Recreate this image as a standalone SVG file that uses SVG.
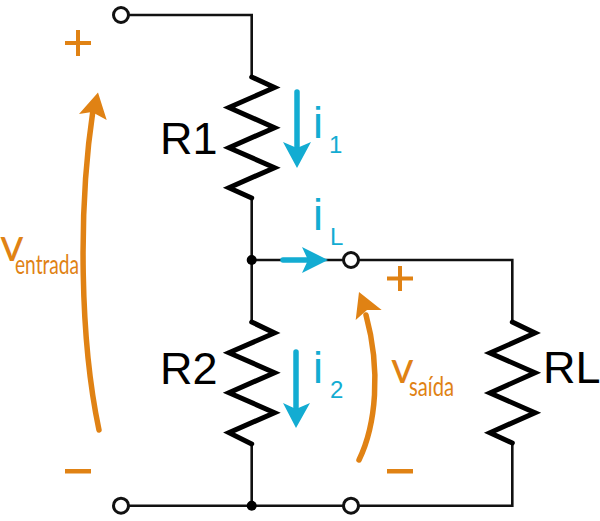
<svg xmlns="http://www.w3.org/2000/svg" width="600" height="521" viewBox="0 0 600 521">
<style>
.w{fill:none;stroke:#111;stroke-width:2.6;stroke-linejoin:miter}
.r{fill:none;stroke:#000;stroke-width:5;stroke-linecap:round;stroke-linejoin:miter}
.t{fill:#fff;stroke:#111;stroke-width:3}
.d{fill:#000}
.oa{fill:none;stroke:#e08214;stroke-width:5.5;stroke-linecap:round}
.of{fill:#e08214}
.ba{fill:none;stroke:#13acd2;stroke-width:5.5;stroke-linecap:round}
.bf{fill:#13acd2}
.k{font-family:"Liberation Sans",Arial,sans-serif;font-size:45px;fill:#000}
.bl{font-family:"Liberation Sans",Arial,sans-serif;fill:#13acd2}
.ol{font-family:Lato,"Open Sans",sans-serif;fill:#e08214}
</style>
<g id="connectors">
<path class="w" d="M121 15H251.7V77M251.7 198V322M251.700 444V505.700M121 505.7H512.3V443M251.7 260H512.3V322"/>
</g>
<g id="R1"><path class="r" d="M251.7 77L274.500 87.500L229 107.500L274.500 127.700L229 147.700L274.500 167.700L229 187.700L251.700 198"/><text class="k" x="160" y="154">R1</text></g>
<g id="R2"><path class="r" d="M251.7 322L274.500 333L229 352.700L274.500 372.700L229 392.700L274.500 412.700L229 432.700L251.700 444"/><text class="k" x="160" y="384">R2</text></g>
<g id="RL"><path class="r" d="M512.3 322L535 333L490 353L535 372.700L490 393L535 412.700L490 432.700L512.300 443"/><text class="k" x="543" y="383">RL</text></g>
<g id="T1"><circle class="t" cx="121" cy="15" r="7.5"/></g>
<g id="T2"><circle class="t" cx="121" cy="505.7" r="7.5"/></g>
<g id="T3"><circle class="t" cx="351" cy="260" r="7.5"/></g>
<g id="T4"><circle class="t" cx="351" cy="505.7" r="7.5"/></g>
<g id="N1"><circle class="d" cx="251.7" cy="260" r="5"/></g>
<g id="N2"><circle class="d" cx="251.7" cy="505.7" r="5"/></g>
<g id="i1"><path class="ba" d="M297 92V150"/><path class="bf" d="M297 168L283 142L297 148L311 142Z"/><text class="bl" x="313" y="138" font-size="45">i</text><text class="bl" x="329" y="153" font-size="24">1</text></g>
<g id="i2"><path class="ba" d="M296 352V410"/><path class="bf" d="M296 428L283 403L296 409L310 403Z"/><text class="bl" x="313" y="383" font-size="45">i</text><text class="bl" x="330" y="398" font-size="24">2</text></g>
<g id="iL"><path class="ba" d="M283 260H310"/><path class="bf" d="M328 260L302 247L308 260L302 273Z"/><text class="bl" x="313" y="230" font-size="45">i</text><text class="bl" x="330" y="245" font-size="24">L</text></g>
<g id="ventrada"><path class="oa" d="M99 430C80 340 78 210 93 110"/><path class="of" d="M98 92.500L106.700 120L92 112L79 114Z"/><text class="ol" x="0" y="261" font-size="46">v</text><text class="ol" x="15" y="273.500" font-size="27" textLength="64" lengthAdjust="spacingAndGlyphs">entrada</text><path class="of" d="M65 41H91V45H65ZM76 30H80V56H76Z"/><path class="of" d="M65 469H91V473.500H65Z"/></g>
<g id="vsaida"><path class="oa" d="M359 460C376 425 381 370 366 315"/><path class="of" d="M359 292L381.700 310L367 310L355.700 320Z"/><text class="ol" x="391" y="382.700" font-size="44">v</text><text class="ol" x="409" y="395.500" font-size="27" textLength="45" lengthAdjust="spacingAndGlyphs">saída</text><path class="of" d="M387 276.500H413V280.500H387ZM398 266H402V291H398Z"/><path class="of" d="M387 469H413V473.500H387Z"/></g>
</svg>
